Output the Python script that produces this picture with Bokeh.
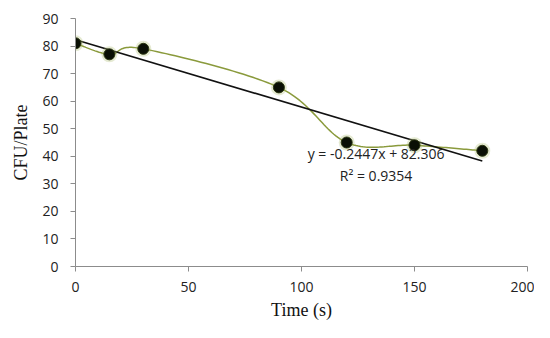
import numpy as np
from bokeh.plotting import figure
from bokeh.models import Range1d, Label, FixedTicker
from bokeh.embed import file_html
from bokeh.resources import INLINE

time_s = [0, 15, 30, 90, 120, 150, 180]
cfu = [81, 77, 79, 65, 45, 44, 42]
slope = -0.2447
intercept = 82.306
r2 = 0.9354
x_ticks = [0, 50, 100, 150, 200]
y_ticks = [0, 10, 20, 30, 40, 50, 60, 70, 80, 90]


def smooth(xs, ys, n=30):
    xs = np.asarray(xs, float); ys = np.asarray(ys, float)
    px = np.concatenate([[xs[0]], xs, [xs[-1]]])
    py = np.concatenate([[ys[0]], ys, [ys[-1]]])
    ox, oy = [], []
    for i in range(1, len(px) - 2):
        p0 = np.array([px[i - 1], py[i - 1]]); p1 = np.array([px[i], py[i]])
        p2 = np.array([px[i + 1], py[i + 1]]); p3 = np.array([px[i + 2], py[i + 2]])
        c1 = p1 + (p2 - p0) / 6.0
        c2 = p2 - (p3 - p1) / 6.0
        t = np.linspace(0, 1, n)[:, None]
        b = (1 - t) ** 3 * p1 + 3 * (1 - t) ** 2 * t * c1 + 3 * (1 - t) * t ** 2 * c2 + t ** 3 * p2
        ox.extend(b[:, 0]); oy.extend(b[:, 1])
    return ox, oy


p = figure(width=534, height=322, output_backend="svg", toolbar_location=None,
           x_range=Range1d(0, 200), y_range=Range1d(0, 90),
           min_border_left=75, min_border_right=7, min_border_top=18, min_border_bottom=56)
p.outline_line_color = None
p.xgrid.grid_line_color = None
p.ygrid.grid_line_color = None

sx, sy = smooth(time_s, cfu)
p.line(sx, sy, line_color="#8a9a3c", line_width=1.5)

tx = [time_s[0], time_s[-1]]
ty = [slope * v + intercept for v in tx]
p.line(tx, ty, line_color="#111111", line_width=1.6)

p.scatter(time_s, cfu, size=16, fill_color="#a8b86a", fill_alpha=0.3, line_color=None)
p.scatter(time_s, cfu, size=11, fill_color="#0a0f05", line_color="#2a3510", line_width=1)

for ax in (p.xaxis[0], p.yaxis[0]):
    ax.axis_line_color = "#8c8c8c"
    ax.major_tick_line_color = "#8c8c8c"
    ax.minor_tick_line_color = None
    ax.major_tick_in = 0
    ax.major_tick_out = 5
    ax.major_label_text_font = "Open Sans"
    ax.major_label_text_font_size = "14px"
    ax.major_label_text_color = "#222222"
    ax.axis_label_text_font = "Liberation Serif"
    ax.axis_label_text_font_style = "normal"
    ax.axis_label_text_font_size = "18px"
    ax.axis_label_text_color = "#111111"

p.xaxis[0].ticker = FixedTicker(ticks=x_ticks)
p.yaxis[0].ticker = FixedTicker(ticks=y_ticks)
p.xaxis[0].axis_label = "Time (s)"
p.yaxis[0].axis_label = "CFU/Plate"
p.xaxis[0].major_label_standoff = 10
p.yaxis[0].major_label_standoff = 12
p.xaxis[0].axis_label_standoff = 5
p.yaxis[0].axis_label_standoff = 8

p.add_layout(Label(x=133, y=41, text="y = -0.2447x + 82.306", text_font="Open Sans",
                   text_font_size="14px", text_color="#222222", text_align="center",
                   text_baseline="middle"))
p.add_layout(Label(x=133, y=33, text="R² = " + str(r2), text_font="Open Sans",
                   text_font_size="14px", text_color="#222222", text_align="center",
                   text_baseline="middle"))

open("out.html", "w").write(file_html(p, INLINE))
